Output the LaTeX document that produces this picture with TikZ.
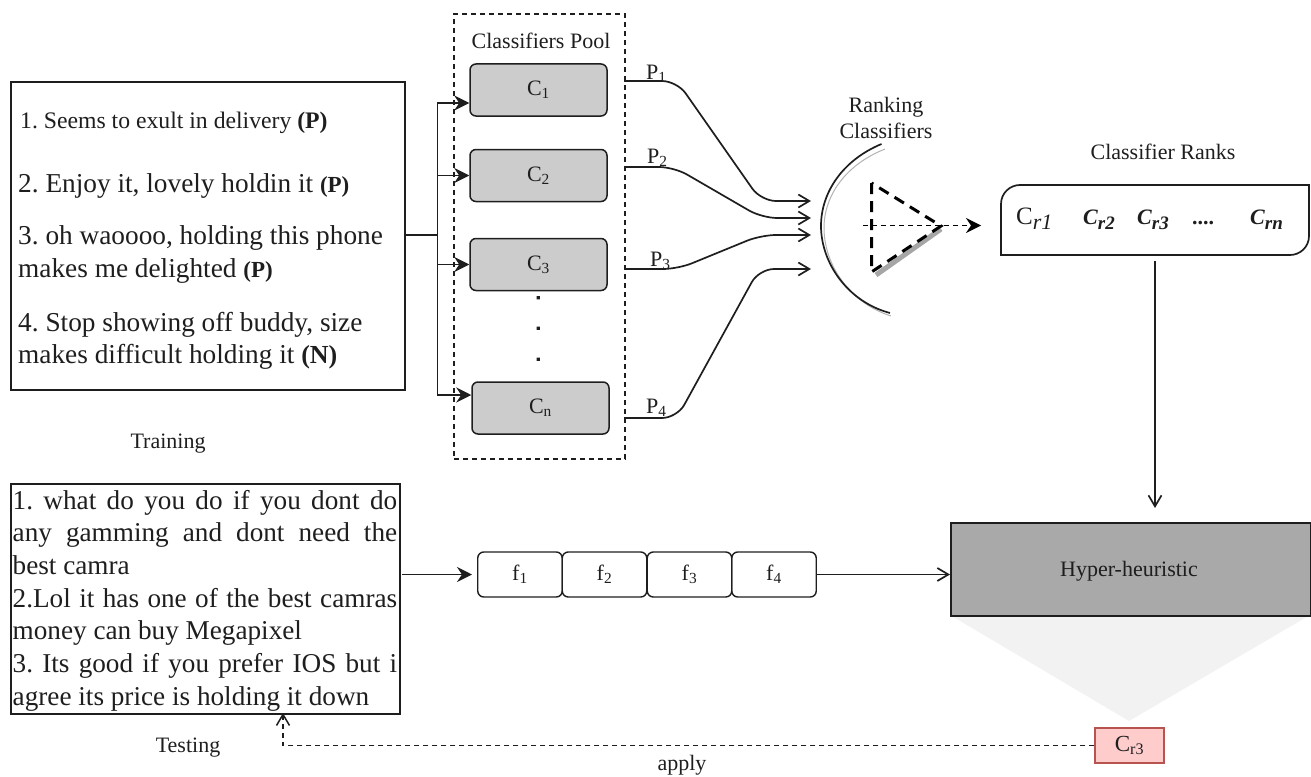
\documentclass[tikz,border=0pt]{standalone}
\usepackage{fontspec}
\setmainfont{Liberation Serif}
\usetikzlibrary{arrows.meta}
\AtBeginDocument{\frenchspacing}
\newcommand{\fs}[1]{\fontsize{#1}{#1}\selectfont}
\newcommand{\rsub}[2][19]{\raisebox{-5.5pt}{\fs{#1}#2}}
\definecolor{boxgray}{HTML}{CCCCCC}
\definecolor{hypergray}{HTML}{A9A9A9}
\definecolor{conegray}{HTML}{F2F2F2}
\definecolor{redfill}{HTML}{FFCCCC}
\definecolor{redline}{HTML}{B85450}
\definecolor{ink}{HTML}{1E1E1E}
\tikzset{
  x=1pt,y=-1pt,
  every node/.style={text=ink},
  frame/.style={draw=ink,line width=1.6pt,inner sep=0pt,anchor=north west},
  clsbox/.style={draw=ink,line width=1.5pt,fill=boxgray,rounded corners=6pt,minimum width=137pt,minimum height=52pt,inner sep=0pt,font=\fs{22}},
  fbox/.style={draw=ink,line width=1.4pt,rounded corners=6pt,minimum width=84.5pt,minimum height=45pt,inner sep=0pt,font=\fs{22}},
  lbl/.style={inner sep=0pt,font=\fs{22}},
  item/.style={inner sep=0pt,anchor=base west,font=\fs{27.3}},
  rk/.style={inner sep=0pt,anchor=base west,font=\fs{22}},
  plabel/.style={inner sep=0pt,anchor=base west,font=\fs{22}},
  conn/.style={draw=ink,line width=1.7pt},
  solidtip/.style={-{Stealth[length=15pt,width=15pt,inset=5pt]}},
  opentip/.style={-{Straight Barb[length=11pt,width=13pt]}},
  curve/.style={conn,opentip,rounded corners=15pt},
  dashline/.style={draw=ink,line width=1.5pt,dash pattern=on 5pt off 4pt},
}
\begin{document}
\begin{tikzpicture}
\useasboundingbox (0,0) rectangle (1311,776);
% training box
\node[frame,minimum width=394pt,minimum height=308pt] (train) at (10,81) {};
\node[item,font=\fs{23.7}] (t1) at (20,128) {1. Seems to exult in delivery \textbf{(P)}};
\node[item] (t2) at (18,192) {2. Enjoy it, lovely holdin it {\fs{23}\textbf{(P)}}};
\node[item] (t3) at (18,244) {3. oh waoooo, holding this phone};
\node[item] (t3b) at (18,277) {makes me delighted {\fs{23}\textbf{(P)}}};
\node[item] (t4) at (18,331) {4. Stop showing off buddy, size};
\node[item] (t4b) at (18,363) {makes difficult holding it {\fs{26}\textbf{(N)}}};
\node[lbl] (training) at (168,444) {Training};
% pool
\node[frame,dashline,line width=1.6pt,minimum width=171pt,minimum height=445pt] (pool) at (453,13) {};
\node[lbl] (pooltitle) at (541,41) {Classifiers Pool};
\node[clsbox] (c1) at (538.5,90) {C\textsubscript{1}};
\node[clsbox] (c2) at (538.5,175.5) {C\textsubscript{2}};
\node[clsbox] (c3) at (538.5,264.5) {C\textsubscript{3}};
\node[clsbox] (cn) at (540.5,408) {C\textsubscript{n}};
\fill[ink] (536.5,296) rectangle +(3.4,3.4) (536.5,326.5) rectangle +(3.4,3.4) (536.5,357.5) rectangle +(3.4,3.4);
% fan-out
\coordinate (trunk) at (437.5,235);
\draw[conn] (train.east|-trunk) -- (trunk);
\draw[conn,solidtip] (trunk) |- (c1.west|-0,103);
\draw[conn,solidtip] (trunk) |- (c2.west);
\draw[conn,solidtip] (trunk) |- (c3.west);
\draw[conn,solidtip] (trunk) |- (cn.west|-0,395);
% P curves
\coordinate (p1s) at (624,81); \coordinate (p1e) at (811,201);
\coordinate (p2s) at (624,167); \coordinate (p2e) at (811,218);
\coordinate (p3s) at (624,269); \coordinate (p3e) at (811,235);
\coordinate (p4s) at (624,418); \coordinate (p4e) at (811,269);
\draw[curve] (p1s) -- (677,81) -- (761,201) -- (p1e);
\draw[curve] (p2s) -- (674,167) -- (762,218) -- (p2e);
\draw[curve] (p3s) -- (678,269) -- (761,235) -- (p3e);
\draw[curve] (p4s) -- (677,418) -- (759,269) -- (p4e);
\node[plabel] (l1) at (646,79) {P\textsubscript{1}};
\node[plabel] (l2) at (647,163) {P\textsubscript{2}};
\node[plabel] (l3) at (650,266) {P\textsubscript{3}};
\node[plabel] (l4) at (646,413) {P\textsubscript{4}};
% ranking
\node[inner sep=0pt,align=center,font=\fontsize{22}{26}\selectfont] (rankc) at (886,118) {Ranking\\Classifiers};
\draw[draw=gray!60,line width=1pt] (885,149) .. controls (845,165) and (824,196) .. (824,228) .. controls (824,265) and (850,303) .. (891,316);
\draw[conn] (881.5,144) .. controls (843,160) and (821,192) .. (821,226) .. controls (821,263) and (848,302) .. (890,313);
\draw[draw=gray!70,line width=5pt] (941,229) -- (876,275);
\draw[draw=black,line width=3pt,dash pattern=on 11pt off 7pt] (871.5,183) -- (871.5,272) -- (941,226) -- cycle;
\coordinate (rs) at (863,225.5);
\coordinate (re) at (981,225.5);
\draw[draw=black,line width=1.4pt,dash pattern=on 5pt off 4pt,solidtip] (rs) -- (re);
% ranks box
\draw[conn] (1001,255) -- (1001,204) .. controls (1001,193) and (1010,185) .. (1020,185) -- (1309,185) -- (1309,236) .. controls (1309,247) and (1300,255) .. (1290,255) -- cycle;
\node[lbl] (ranks) at (1163,152) {Classifier Ranks};
\node[rk,font=\fs{25}] (r1) at (1016,224) {C\rsub[22]{\textit{r1}}};
\node[rk] (r2) at (1083,224) {\textbf{\textit{C\rsub{r2}}}};
\node[rk] (r3) at (1137,224) {\textbf{\textit{C\rsub{r3}}}};
\node[rk] (rd) at (1192,224) {\textbf{....}};
\node[rk] (rn) at (1250,224) {\textbf{\textit{C\rsub{rn}}}};
% hyper
\fill[conegray] (950,615) -- (1310,615) -- (1129,721) -- cycle;
\node[frame,fill=hypergray,minimum width=360pt,minimum height=93pt] (hyper) at (950,522) {};
\node[lbl] (hypert) at (1129,571) {Hyper-heuristic};
\coordinate (rb) at (1155,261);
\coordinate (rt) at (1155,508);
\draw[conn,opentip] (rb) -- (rt);
\node[draw=redline,line width=1.5pt,fill=redfill,minimum width=69pt,minimum height=35pt,inner sep=0pt,font=\fs{23}] (cr3) at (1129.5,745.5) {C\textsubscript{r3}};
% testing box
\node[frame,minimum width=389pt,minimum height=230pt] (test) at (10,483) {};
\node[inner sep=0pt,anchor=base west,text width=384.5pt,font=\fontsize{27.2}{32.67}\selectfont,align=justify] (testt) at (12.5,509) {\tolerance=10000\hbadness=10000
1. what do you do if you dont do\linebreak any gamming and dont need the\linebreak\mbox{}best camra\hfill\mbox{}\linebreak 2.Lol it has one of the best camras\linebreak money can buy Megapixel\hfill\mbox{}\linebreak 3. Its good if you prefer IOS but i\linebreak agree its price is holding it down\hfill\mbox{}};
\node[lbl] (testing) at (188,748) {Testing};
\node[lbl] (apply) at (682,765.5) {apply};
% features
\node[fbox] (f1) at (520,574.5) {f\textsubscript{1}};
\node[fbox] (f2) at (604.5,574.5) {f\textsubscript{2}};
\node[fbox] (f3) at (689.5,574.5) {f\textsubscript{3}};
\node[fbox] (f4) at (774,574.5) {f\textsubscript{4}};
\coordinate (ts) at (402,574.5);
\draw[conn,solidtip] (ts) -- ++(70,0);
\draw[conn,opentip] (f4.east) -- (hyper.west|-f4.east);
% apply
\coordinate (ap) at (283,713);
\draw[dashline,opentip] (cr3.west) -| (ap);
\end{tikzpicture}
\end{document}
